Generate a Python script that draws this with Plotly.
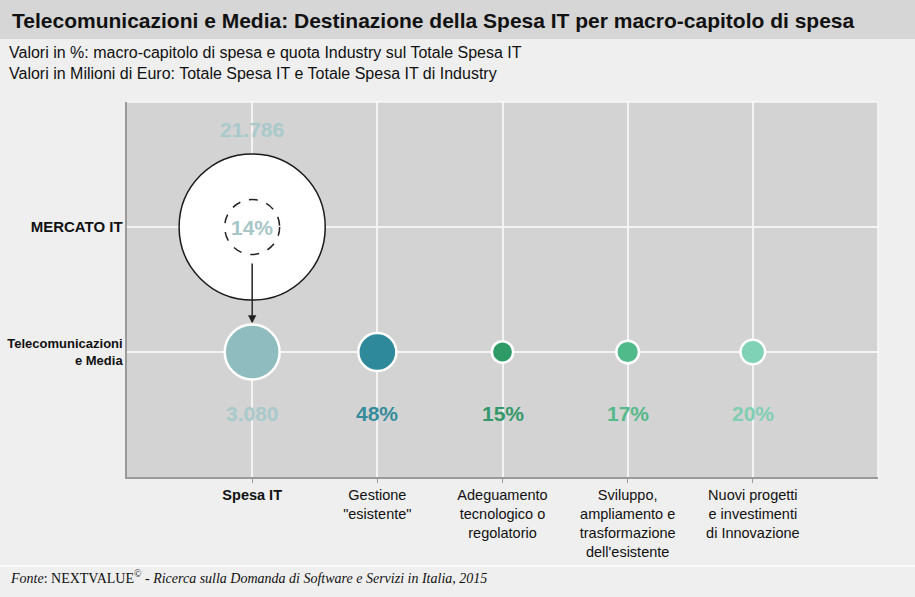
import plotly.graph_objects as go
import math

# ---------------- data ----------------
categories = ["Spesa IT", "Gestione<br>\"esistente\"", "Adeguamento<br>tecnologico o<br>regolatorio",
              "Sviluppo,<br>ampliamento e<br>trasformazione<br>dell'esistente",
              "Nuovi progetti<br>e investimenti<br>di Innovazione"]
rows = ["Telecomunicazioni e Media", "MERCATO IT"]
mercato_total = 21786          # Milioni di Euro
industry_total = 3080          # Milioni di Euro
macro_share = [48, 15, 17, 20]  # % of industry spend
macro_labels = ["48%", "15%", "17%", "20%"]
total_labels = ["21.786", "3.080"]
industry_share_label = "14%"

# ---------------- styles ----------------
W, H = 915, 597
L, R, T, B = 127, 878, 102, 477
SCALE = 0.99
bubble_colors = ["#8fbcbe", "#2e8a9a", "#2e9a66", "#50ba8a", "#80d2b6"]
label_colors = ["#a9c9cb", "#358c9a", "#33996a", "#55b98b", "#80cfb3"]
FONT = "Arial, Liberation Sans, sans-serif"


def px(x):
    return (x - L) / (R - L)


def py(y):
    return (B - y) / (B - T)


values_row0 = [industry_total] + [industry_total * s / 100 for s in macro_share]
sizes_row0 = [math.sqrt(v) * SCALE for v in values_row0]
big_size = math.sqrt(mercato_total) * SCALE
dash_r = big_size / 2 * math.sqrt(industry_total / mercato_total)

fig = go.Figure()

# big MERCATO IT circle
fig.add_trace(go.Scatter(
    x=[0], y=[1], mode="markers",
    marker=dict(size=big_size, color="white", line=dict(color="#1a1a1a", width=1.5)),
    hoverinfo="skip", showlegend=False))

# industry bubbles
fig.add_trace(go.Scatter(
    x=list(range(len(categories))), y=[0] * len(categories), mode="markers",
    marker=dict(size=sizes_row0, color=bubble_colors, opacity=1,
                line=dict(color="white", width=2.5)),
    hoverinfo="skip", showlegend=False))

annotations = []
row0_labels = [total_labels[1]] + macro_labels
for i, lab in enumerate(row0_labels):
    annotations.append(dict(x=i, y=0, xref="x", yref="y", text=f"<b>{lab}</b>", showarrow=False,
                            yshift=-61, font=dict(size=21, color=label_colors[i], family=FONT)))
annotations.append(dict(x=0, y=1, xref="x", yref="y", text=f"<b>{total_labels[0]}</b>", showarrow=False,
                        yshift=98, font=dict(size=21, color=label_colors[0], family=FONT)))
annotations.append(dict(x=0, y=1, xref="x", yref="y", text=f"<b>{industry_share_label}</b>", showarrow=False,
                        font=dict(size=21, color="#a6c6c8", family=FONT)))
annotations.append(dict(x=0, y=0, xref="x", yref="y", ax=0, ay=-97, axref="pixel", ayref="pixel",
                        text=" ", showarrow=True, arrowhead=2, arrowsize=1.1, arrowwidth=1.5,
                        arrowcolor="#222222", standoff=sizes_row0[0] / 2 + 1))

annotations += [
    dict(x=px(10), y=py(20), xref="paper", yref="paper", xanchor="left", yanchor="middle",
         text="<b>Telecomunicazioni e Media: Destinazione della Spesa IT per macro-capitolo di spesa</b>",
         showarrow=False, font=dict(size=21, color="#111111", family=FONT)),
    dict(x=px(7), y=py(53), xref="paper", yref="paper", xanchor="left", yanchor="middle",
         text="Valori in %: macro-capitolo di spesa e quota Industry sul Totale Spesa IT",
         showarrow=False, font=dict(size=16, color="#111111", family=FONT)),
    dict(x=px(7), y=py(73), xref="paper", yref="paper", xanchor="left", yanchor="middle",
         text="Valori in Milioni di Euro: Totale Spesa IT e Totale Spesa IT di Industry",
         showarrow=False, font=dict(size=16, color="#111111", family=FONT)),
    dict(x=px(8), y=py(577), xref="paper", yref="paper", xanchor="left", yanchor="middle",
         text="<i>Fonte</i>: NEXTVALUE<sup>©</sup> - <i>Ricerca sulla Domanda di Software e Servizi in Italia, 2015</i>",
         showarrow=False, font=dict(size=14, color="#111111", family="Liberation Serif, Times New Roman, serif")),
]

shapes = [
    dict(type="rect", xref="paper", yref="paper", x0=px(0), x1=px(W), y0=py(39), y1=py(0),
         fillcolor="#d6d6d6", line=dict(width=0), layer="below"),
    dict(type="line", xref="paper", yref="paper", x0=px(0), x1=px(W), y0=py(566), y1=py(566),
         line=dict(color="white", width=1.5)),
    dict(type="line", xref="paper", yref="paper", x0=px(L), x1=px(R), y0=1, y1=1,
         line=dict(color="#f8f8f8", width=1.5)),
    dict(type="line", xref="paper", yref="paper", x0=1, x1=1, y0=0, y1=1,
         line=dict(color="#f8f8f8", width=1.5)),
    dict(type="circle", xref="x", yref="y", xsizemode="pixel", ysizemode="pixel",
         xanchor=0, yanchor=1, x0=-dash_r, x1=dash_r, y0=-dash_r, y1=dash_r,
         line=dict(color="#222222", width=1.5, dash="dash")),
]

xticktext = ["<b>" + categories[0] + "</b>"] + categories[1:]
yticktext = ["<b>Telecomunicazioni<br>e Media</b>", "<b><span style='font-size:15px'>MERCATO IT</span></b>"]

fig.update_layout(
    width=W, height=H,
    margin=dict(l=L, r=W - R, t=T, b=H - B, pad=0, autoexpand=False),
    paper_bgcolor="#efefef", plot_bgcolor="#d3d3d3",
    font=dict(family=FONT, color="#111111"),
    showlegend=False,
    annotations=annotations, shapes=shapes,
    xaxis=dict(range=[-1, 5], tickvals=list(range(len(categories))), ticktext=xticktext,
               showgrid=True, gridcolor="#f4f4f4", gridwidth=1.5, zeroline=False,
               showline=True, linecolor="#9a9a9a", linewidth=1.5,
               ticks="outside", ticklen=4, tickcolor="#9a9a9a", automargin=False,
               tickfont=dict(size=14.5, color="#111111"), fixedrange=True),
    yaxis=dict(range=[-1, 2], tickvals=[0, 1], ticktext=yticktext,
               showgrid=True, gridcolor="#f4f4f4", gridwidth=1.5, zeroline=False,
               showline=True, linecolor="#9a9a9a", linewidth=1.5, ticks="", automargin=False,
               tickfont=dict(size=13, color="#111111"), fixedrange=True),
)

fig.write_html("out.html", config={"displayModeBar": False},
               post_script="document.body.style.margin='0';document.body.style.padding='0';")
